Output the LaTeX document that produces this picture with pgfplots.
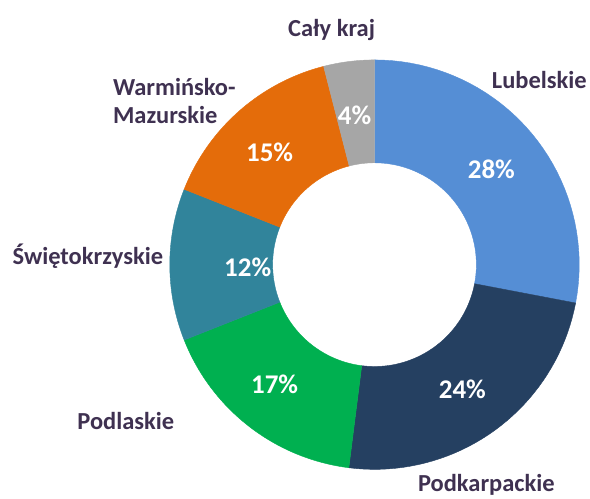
\documentclass[border=0pt]{standalone}
\usepackage{fontspec}
\setmainfont{Carlito}
\usepackage{pgfplots}
\pgfplotsset{compat=1.18}
\definecolor{cLub}{HTML}{558ED5}
\definecolor{cPodk}{HTML}{254061}
\definecolor{cPodl}{HTML}{00B050}
\definecolor{cSwi}{HTML}{31849B}
\definecolor{cWar}{HTML}{E46C0A}
\definecolor{cKraj}{HTML}{A6A6A6}
\definecolor{labtxt}{HTML}{3F3151}
\newcommand\Rout{205}
\newcommand\Rin{102}
% #1 colour, #2 cumulative start (%), #3 value (%)
\newcommand{\slice}[3]{%
\addplot[fill=#1, draw=#1, line width=0.4pt,
  samples at={0,0.025,...,0.975,1,2,2.025,...,2.975,3}, variable=\t]
 ({ifthenelse(\t<1.5, \Rout*cos(90-3.6*(#2+#3*\t)), \Rin*cos(90-3.6*(#2+#3*(3-\t))))},
  {ifthenelse(\t<1.5, \Rout*sin(90-3.6*(#2+#3*\t)), \Rin*sin(90-3.6*(#2+#3*(3-\t))))}) -- cycle;}
\begin{document}
\begin{tikzpicture}
\begin{axis}[hide axis, scale only axis, width=590pt, height=498pt,
  xmin=-375, xmax=215, ymin=-233, ymax=265, clip=false]
\path (rel axis cs:0,0) rectangle (rel axis cs:1,1);
\slice{cLub}{0}{28}
\slice{cPodk}{28}{24}
\slice{cPodl}{52}{17}
\slice{cSwi}{69}{12}
\slice{cWar}{81}{15}
\slice{cKraj}{96}{4}
\tikzset{pct/.style={text=white, font=\fontsize{27}{30}\selectfont\bfseries},
         lab/.style={text=labtxt, font=\fontsize{24.5}{28}\selectfont\bfseries}}
\node[pct] at (axis cs:117,95) {28\%};
\node[pct] at (axis cs:88,-125) {24\%};
\node[pct] at (axis cs:-100,-120) {17\%};
\node[pct] at (axis cs:-127,-3) {12\%};
\node[pct] at (axis cs:-105,112) {15\%};
\node[pct] at (axis cs:-20,150) {4\%};
\node[lab] at (axis cs:-43,235) {Cały kraj};
\node[lab] at (axis cs:165,185) {Lubelskie};
\node[lab] at (axis cs:112,-220) {Podkarpackie};
\node[lab] at (axis cs:-249,-157) {Podlaskie};
\node[lab] at (axis cs:-287,8) {Świętokrzyskie};
\node[lab, anchor=west, align=left, inner sep=0pt] at (axis cs:-262,164) {Warmińsko-\\Mazurskie};
\end{axis}
\end{tikzpicture}
\end{document}
